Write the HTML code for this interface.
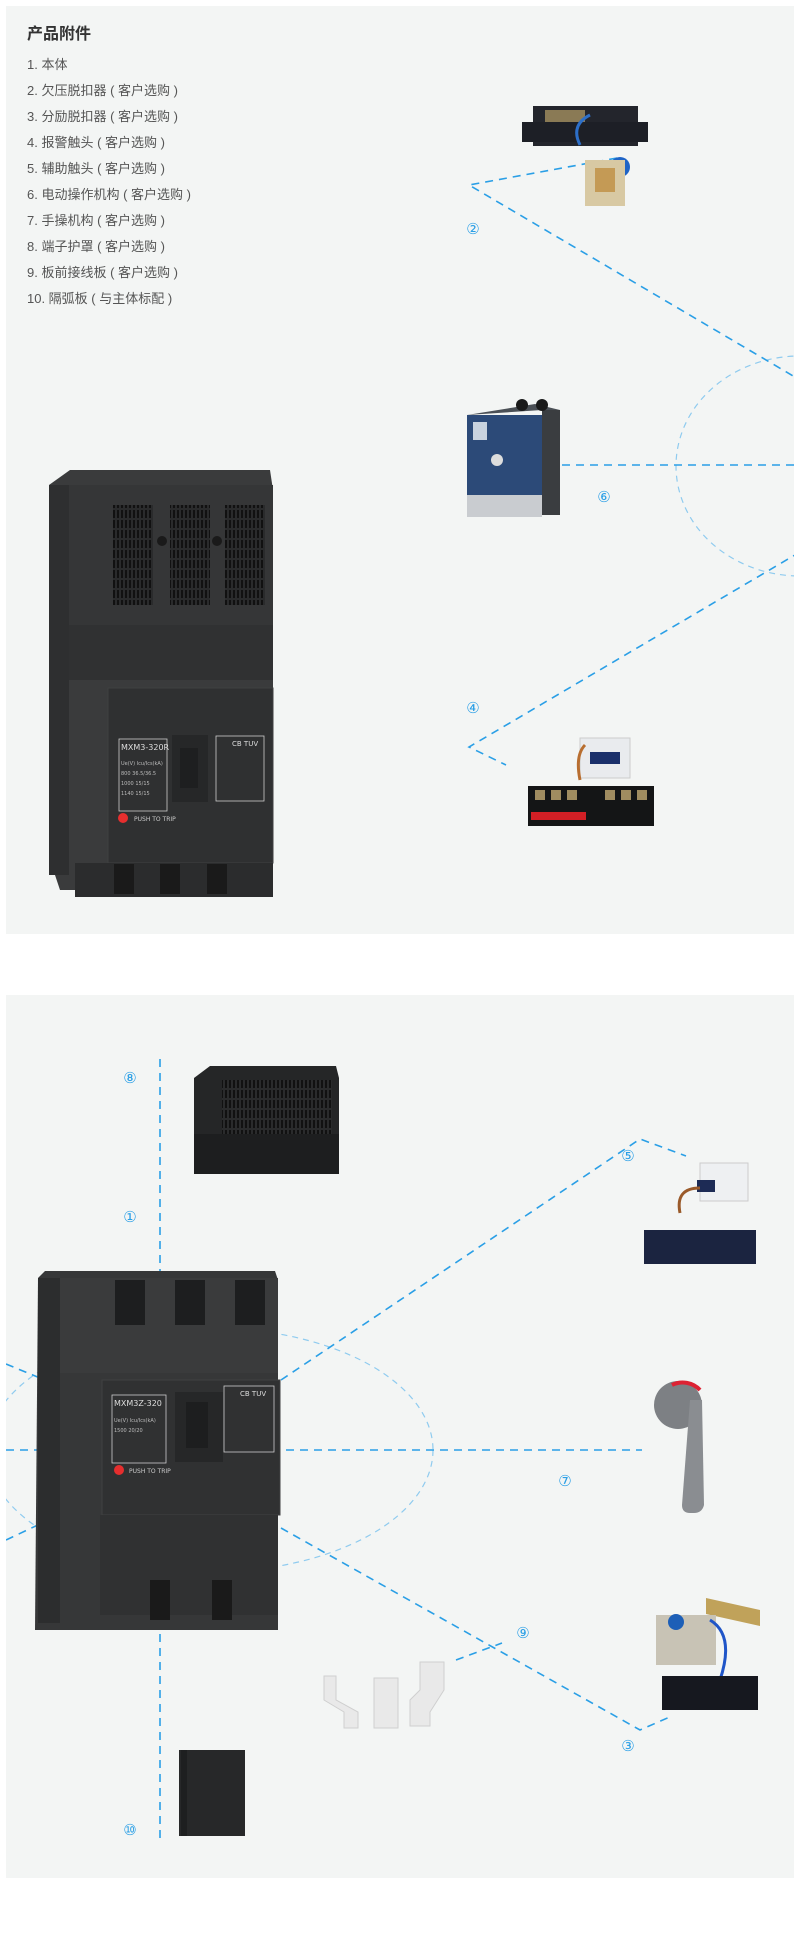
<!DOCTYPE html>
<html><head><meta charset="utf-8">
<style>
html,body{margin:0;padding:0;background:#fff;}
body{width:802px;height:1938px;position:relative;overflow:hidden;font-family:"Liberation Sans","Noto Sans CJK SC",sans-serif;}
svg{position:absolute;left:0;top:0;}
.t{position:absolute;left:27px;color:#555;font-size:13px;}
</style></head><body>
<svg width="802" height="1938" viewBox="0 0 802 1938" font-family="DejaVu Sans, Noto Sans CJK SC, sans-serif">
<defs>
<clipPath id="c1"><rect x="6" y="6" width="788" height="928"/></clipPath>
<clipPath id="c2"><rect x="6" y="995" width="788" height="883"/></clipPath>
<pattern id="vent" width="4" height="10" patternUnits="userSpaceOnUse"><rect width="4" height="10" fill="#2a2b2c"/><rect x="1" width="2" height="8" fill="#111"/></pattern>
</defs>
<rect x="6" y="6" width="788" height="928" fill="#f3f5f4"/>
<rect x="6" y="995" width="788" height="883" fill="#f3f5f4"/>

<g clip-path="url(#c1)" fill="none">
<ellipse cx="800" cy="466" rx="124" ry="110" stroke="#8fcbef" stroke-width="1.2" stroke-dasharray="6,5"/>
<g stroke="#2a9fe6" stroke-width="1.6" stroke-dasharray="8,6">
<polyline points="617,158 469,185 800,380"/>
<line x1="562" y1="465" x2="794" y2="465"/>
<polyline points="800,552 469,747 506,765"/>
</g>
</g>
<g font-size="15" fill="#2a9fe6" text-anchor="middle">
<text x="473" y="234">②</text><text x="604" y="502">⑥</text><text x="473" y="713">④</text>
</g>

<!-- breaker 1 -->
<g>
<polygon points="49,485 70,470 270,470 273,490 273,890 60,890 55,875" fill="#3a3b3c"/>
<rect x="49" y="485" width="20" height="390" fill="#2e2f30"/>
<rect x="69" y="485" width="204" height="140" fill="#353637"/>
<rect x="113" y="505" width="40" height="100" fill="url(#vent)"/>
<rect x="170" y="505" width="40" height="100" fill="url(#vent)"/>
<rect x="225" y="505" width="40" height="100" fill="url(#vent)"/>
<circle cx="162" cy="541" r="5" fill="#1a1a1a"/><circle cx="217" cy="541" r="5" fill="#1a1a1a"/>
<rect x="69" y="625" width="204" height="55" fill="#303132"/>
<rect x="108" y="688" width="165" height="175" fill="#2f3031" stroke="#3f4041"/>
<rect x="119" y="739" width="48" height="72" fill="none" stroke="#ccc" stroke-width="0.8"/>
<text x="121" y="750" font-size="8" fill="#ddd">MXM3-320R</text>
<text x="121" y="765" font-size="5" fill="#bbb">Ue(V)   Icu/Ics(kA)</text>
<text x="121" y="775" font-size="5" fill="#bbb">800       36.5/36.5</text>
<text x="121" y="785" font-size="5" fill="#bbb">1000        15/15</text>
<text x="121" y="795" font-size="5" fill="#bbb">1140        15/15</text>
<rect x="172" y="735" width="36" height="67" fill="#262728"/>
<rect x="180" y="748" width="18" height="40" fill="#1e1f20"/>
<rect x="216" y="736" width="48" height="65" fill="none" stroke="#ccc" stroke-width="0.8"/>
<text x="232" y="746" font-size="7" fill="#ddd">CB  TUV</text>
<circle cx="123" cy="818" r="5" fill="#e62e2e"/>
<text x="134" y="821" font-size="6" fill="#ccc">PUSH TO TRIP</text>
<rect x="75" y="863" width="198" height="34" fill="#2b2c2d"/>
<rect x="114" y="864" width="20" height="30" fill="#1a1a1a"/><rect x="160" y="864" width="20" height="30" fill="#1a1a1a"/><rect x="207" y="864" width="20" height="30" fill="#1a1a1a"/>
</g>

<!-- accessory 2 -->
<g>
<rect x="533" y="106" width="105" height="40" fill="#23252c"/>
<rect x="522" y="122" width="126" height="20" fill="#1d1f26"/>
<rect x="545" y="110" width="40" height="12" fill="#8a7a55"/>
<path d="M590,115 q-20,10 -10,30" stroke="#2d6fc8" stroke-width="3" fill="none"/>
<circle cx="620" cy="167" r="10" fill="#1f64c6"/>
<rect x="585" y="160" width="40" height="46" fill="#d8c9a3"/>
<rect x="595" y="168" width="20" height="24" fill="#c49a55"/>
</g>
<!-- module 6 -->
<g>
<rect x="467" y="415" width="75" height="100" fill="#2c4a78"/>
<rect x="542" y="410" width="18" height="105" fill="#3a3d40"/>
<polygon points="467,415 542,410 560,410 535,404" fill="#4b5056"/>
<circle cx="522" cy="405" r="6" fill="#1a1a1a"/><circle cx="542" cy="405" r="6" fill="#1a1a1a"/>
<rect x="473" y="422" width="14" height="18" fill="#c9d3df"/>
<rect x="467" y="495" width="75" height="22" fill="#c9ccd0"/>
<circle cx="497" cy="460" r="6" fill="#ddd"/>
</g>
<!-- accessory 4 -->
<g>
<rect x="580" y="738" width="50" height="40" fill="#e9ebee" stroke="#ccc"/>
<rect x="590" y="752" width="30" height="12" fill="#1a2f6a"/>
<path d="M585,745 q-10,10 -5,35" stroke="#b86e30" stroke-width="3" fill="none"/>
<rect x="528" y="786" width="126" height="40" fill="#141516"/>
<rect x="531" y="812" width="55" height="8" fill="#d21f25"/>
<rect x="535" y="790" width="10" height="10" fill="#a08c60"/><rect x="551" y="790" width="10" height="10" fill="#a08c60"/><rect x="567" y="790" width="10" height="10" fill="#a08c60"/>
<rect x="605" y="790" width="10" height="10" fill="#a08c60"/><rect x="621" y="790" width="10" height="10" fill="#a08c60"/><rect x="637" y="790" width="10" height="10" fill="#a08c60"/>
</g>

<!-- panel 2 lines -->
<g clip-path="url(#c2)" fill="none">
<ellipse cx="210" cy="1450" rx="223" ry="122" stroke="#8fcbef" stroke-width="1.2" stroke-dasharray="6,5"/>
<g stroke="#2a9fe6" stroke-width="1.6" stroke-dasharray="8,6">
<line x1="160" y1="1059" x2="160" y2="1280"/>
<line x1="160" y1="1620" x2="160" y2="1839"/>
<line x1="6" y1="1450" x2="642" y2="1450"/>
<polyline points="281,1380 640,1139 686,1156"/>
<polyline points="281,1528 640,1730 672,1716"/>
<line x1="456" y1="1660" x2="502" y2="1643"/>
<line x1="6" y1="1364" x2="40" y2="1378"/>
<line x1="6" y1="1540" x2="40" y2="1524"/>
</g>
</g>
<g font-size="15" fill="#2a9fe6" text-anchor="middle">
<text x="130" y="1083">⑧</text><text x="130" y="1222">①</text><text x="130" y="1835">⑩</text>
<text x="628" y="1161">⑤</text><text x="565" y="1486">⑦</text><text x="523" y="1638">⑨</text><text x="628" y="1751">③</text>
</g>

<!-- cover 8 -->
<g>
<polygon points="194,1078 210,1066 336,1066 339,1078 339,1134 194,1134" fill="#252627"/>
<rect x="222" y="1080" width="110" height="54" fill="url(#vent)"/>
<rect x="194" y="1134" width="145" height="40" fill="#1d1e1f"/>
</g>
<!-- breaker 2 -->
<g>
<polygon points="38,1278 45,1271 275,1271 278,1280 278,1630 35,1630" fill="#363738"/>
<rect x="38" y="1278" width="22" height="345" fill="#2c2d2e"/>
<rect x="60" y="1278" width="218" height="95" fill="#3a3b3c"/>
<rect x="115" y="1280" width="30" height="45" fill="#1d1e1f"/><rect x="175" y="1280" width="30" height="45" fill="#1d1e1f"/><rect x="235" y="1280" width="30" height="45" fill="#1d1e1f"/>
<rect x="102" y="1380" width="178" height="135" fill="#303132" stroke="#404142"/>
<rect x="112" y="1395" width="54" height="68" fill="none" stroke="#ccc" stroke-width="0.8"/>
<text x="114" y="1406" font-size="8" fill="#ddd">MXM3Z-320</text>
<text x="114" y="1422" font-size="5" fill="#bbb">Ue(V)   Icu/Ics(kA)</text>
<text x="114" y="1432" font-size="5" fill="#bbb">1500        20/20</text>
<rect x="175" y="1392" width="48" height="70" fill="#262728"/>
<rect x="186" y="1402" width="22" height="46" fill="#1d1e1f"/>
<rect x="224" y="1386" width="50" height="66" fill="none" stroke="#ccc" stroke-width="0.8"/>
<text x="240" y="1396" font-size="7" fill="#ddd">CB  TUV</text>
<circle cx="119" cy="1470" r="5" fill="#e62e2e"/>
<text x="129" y="1473" font-size="6" fill="#ccc">PUSH TO TRIP</text>
<rect x="100" y="1515" width="178" height="100" fill="#303132"/>
<rect x="150" y="1580" width="20" height="40" fill="#1a1a1a"/><rect x="212" y="1580" width="20" height="40" fill="#1a1a1a"/>
</g>
<!-- accessory 5 -->
<g>
<rect x="700" y="1163" width="48" height="38" fill="#eef0f2" stroke="#ccc"/>
<rect x="697" y="1180" width="18" height="12" fill="#1d2b55"/>
<path d="M700,1188 q-25,0 -20,25" stroke="#9a5a2a" stroke-width="3" fill="none"/>
<rect x="644" y="1230" width="112" height="34" fill="#1b2440"/>
</g>
<!-- handle 7 -->
<g>
<circle cx="678" cy="1405" r="24" fill="#7d8084"/>
<path d="M672,1385 a24,24 0 0 1 28,5" stroke="#d23" stroke-width="4" fill="none"/>
<path d="M690,1400 l12,0 l2,105 q-2,8 -10,8 l-4,0 q-8,0 -8,-8 z" fill="#8a8d91"/>
</g>
<!-- accessory 3 -->
<g>
<polygon points="706,1598 760,1610 760,1626 706,1614" fill="#c0a25a"/>
<rect x="656" y="1615" width="60" height="50" fill="#c8c3b5"/>
<circle cx="676" cy="1622" r="8" fill="#1d5fb7"/>
<path d="M710,1620 q25,15 10,60" stroke="#1f55c8" stroke-width="3" fill="none"/>
<rect x="662" y="1676" width="96" height="34" fill="#16181f"/>
</g>
<!-- busbars -->
<g fill="#e9e9e9" stroke="#cfcfcf">
<polygon points="324,1676 336,1676 336,1700 358,1712 358,1728 344,1728 344,1712 324,1700"/>
<rect x="374" y="1678" width="24" height="50"/>
<polygon points="420,1662 444,1662 444,1690 430,1712 430,1726 410,1726 410,1700 420,1690"/>
</g>
<!-- separator 10 -->
<rect x="179" y="1750" width="66" height="86" fill="#272829"/>
<rect x="181" y="1750" width="6" height="86" fill="#1e1f20"/>
</svg>
<div style="position:absolute;left:27px;top:20px;font-size:16px;font-weight:bold;color:#333;">产品附件</div>
<div class="t" style="top:54px">1. 本体</div>
<div class="t" style="top:80px">2. 欠压脱扣器 ( 客户选购 )</div>
<div class="t" style="top:106px">3. 分励脱扣器 ( 客户选购 )</div>
<div class="t" style="top:132px">4. 报警触头 ( 客户选购 )</div>
<div class="t" style="top:158px">5. 辅助触头 ( 客户选购 )</div>
<div class="t" style="top:184px">6. 电动操作机构 ( 客户选购 )</div>
<div class="t" style="top:210px">7. 手操机构 ( 客户选购 )</div>
<div class="t" style="top:236px">8. 端子护罩 ( 客户选购 )</div>
<div class="t" style="top:262px">9. 板前接线板 ( 客户选购 )</div>
<div class="t" style="top:288px">10. 隔弧板 ( 与主体标配 )</div>
</body></html>
